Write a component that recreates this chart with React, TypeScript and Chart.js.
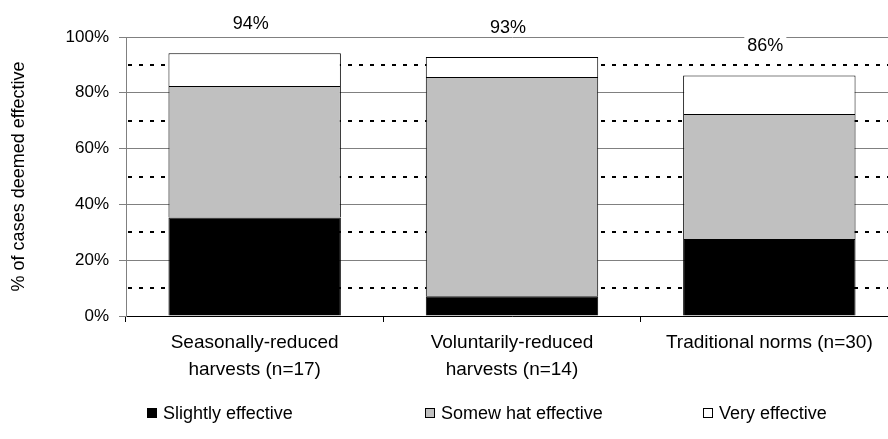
import React, { useEffect, useRef } from 'react';
import { Chart, registerables } from 'chart.js';

Chart.register(...registerables);

const categories = [
  ['Seasonally-reduced', 'harvests (n=17)'],
  ['Voluntarily-reduced', 'harvests (n=14)'],
  'Traditional norms (n=30)',
];
const seriesNames = ['Slightly effective', 'Somew hat effective', 'Very effective'];
const slightlyEffective = [35.3, 7.1, 27.6];
const somewhatEffective = [47.1, 78.6, 44.8];
const veryEffective = [11.8, 7.1, 13.8];
const totalLabels = ['94%', '93%', '86%'];
const seriesColors = ['#000000', '#c0c0c0', '#ffffff'];

const FONT = "'Liberation Sans', Arial, sans-serif";

export default function App() {
  const ref = useRef<HTMLCanvasElement>(null);

  useEffect(() => {
    const canvas = ref.current;
    if (!canvas) return;

    const minorGrid = {
      id: 'minorGrid',
      beforeDatasetsDraw(chart: any) {
        const { ctx, chartArea, scales } = chart;
        const y = scales.y;
        const ticks = y.ticks.map((t: any) => t.value);
        ctx.save();
        ctx.strokeStyle = '#000';
        ctx.lineWidth = 2;
        ctx.setLineDash([4, 7]);
        for (let i = 0; i < ticks.length - 1; i++) {
          const v = (ticks[i] + ticks[i + 1]) / 2;
          const py = Math.round(y.getPixelForValue(v));
          ctx.beginPath();
          ctx.moveTo(chartArea.left + 2, py);
          ctx.lineTo(chartArea.right, py);
          ctx.stroke();
        }
        ctx.restore();
      },
    };

    const totals = {
      id: 'totals',
      afterDatasetsDraw(chart: any) {
        const { ctx, scales } = chart;
        const meta = chart.getDatasetMeta(0);
        ctx.save();
        ctx.font = `18px ${FONT}`;
        ctx.textAlign = 'center';
        ctx.textBaseline = 'middle';
        totalLabels.forEach((lab, i) => {
          const sum = slightlyEffective[i] + somewhatEffective[i] + veryEffective[i];
          const x = meta.data[i].x - 4;
          const yy = scales.y.getPixelForValue(sum) - 29;
          const w = ctx.measureText(lab).width + 6;
          ctx.fillStyle = '#fff';
          ctx.fillRect(x - w / 2, yy - 10, w, 18);
          ctx.fillStyle = '#000';
          ctx.fillText(lab, x, yy);
        });
        ctx.restore();
      },
    };

    const customLegend = {
      id: 'customLegend',
      afterDraw(chart: any) {
        const { ctx } = chart;
        ctx.save();
        ctx.font = `18px ${FONT}`;
        ctx.textBaseline = 'middle';
        ctx.textAlign = 'left';
        const yc = 413;
        chart.data.datasets.forEach((ds: any, i: number) => {
          const x = 147 + i * 278;
          ctx.fillStyle = ds.backgroundColor;
          ctx.fillRect(x + 0.5, yc - 4.5, 9, 9);
          ctx.strokeStyle = '#000';
          ctx.lineWidth = 1;
          ctx.strokeRect(x + 0.5, yc - 4.5, 9, 9);
          ctx.fillStyle = '#000';
          ctx.fillText(ds.label, x + 16, yc + 1);
        });
        ctx.restore();
      },
    };

    const data = [slightlyEffective, somewhatEffective, veryEffective];

    const chart = new Chart(canvas, {
      type: 'bar',
      data: {
        labels: categories as any,
        datasets: data.map((d, i) => ({
          label: seriesNames[i],
          data: d,
          backgroundColor: seriesColors[i],
          borderColor: '#000',
          borderWidth: 1,
          categoryPercentage: 1,
          barPercentage: 0.67,
        })),
      },
      options: {
        responsive: false,
        animation: false,
        devicePixelRatio: 1,
        layout: { padding: { top: 37, right: 2, left: 0, bottom: 0 } },
        plugins: {
          legend: { display: false },
          tooltip: { enabled: false },
        },
        scales: {
          x: {
            stacked: true,
            grid: {
              display: true,
              drawOnChartArea: false,
              drawTicks: true,
              tickLength: 6,
              color: '#000',
              offset: true,
            },
            border: { display: true, color: '#000', width: 1 },
            ticks: {
              font: { family: FONT, size: 19, lineHeight: 1.42 },
              color: '#000',
              padding: 7,
              maxRotation: 0,
              autoSkip: false,
            },
            afterFit: (s: any) => {
              s.height = 123;
            },
          },
          y: {
            stacked: true,
            min: 0,
            max: 100,
            ticks: {
              stepSize: 20,
              callback: (v: any) => v + '%',
              font: { family: FONT, size: 17 },
              color: '#000',
              padding: 10,
            },
            grid: {
              color: '#808080',
              tickLength: 7,
              tickColor: '#808080',
            },
            border: { color: '#808080' },
            title: {
              display: true,
              text: '% of cases deemed effective',
              font: { family: FONT, size: 18 },
              color: '#000',
              padding: { top: 8, bottom: 0 },
            },
            afterFit: (s: any) => {
              s.width = 126;
            },
          },
        },
      },
      plugins: [minorGrid, totals, customLegend],
    });

    return () => chart.destroy();
  }, []);

  return (
    <div
      style={{
        position: 'fixed',
        left: 0,
        top: 0,
        width: 888,
        height: 439,
        overflow: 'hidden',
        background: '#fff',
      }}
    >
      <canvas ref={ref} width={900} height={439} style={{ display: 'block', width: 900, height: 439 }} />
    </div>
  );
}
